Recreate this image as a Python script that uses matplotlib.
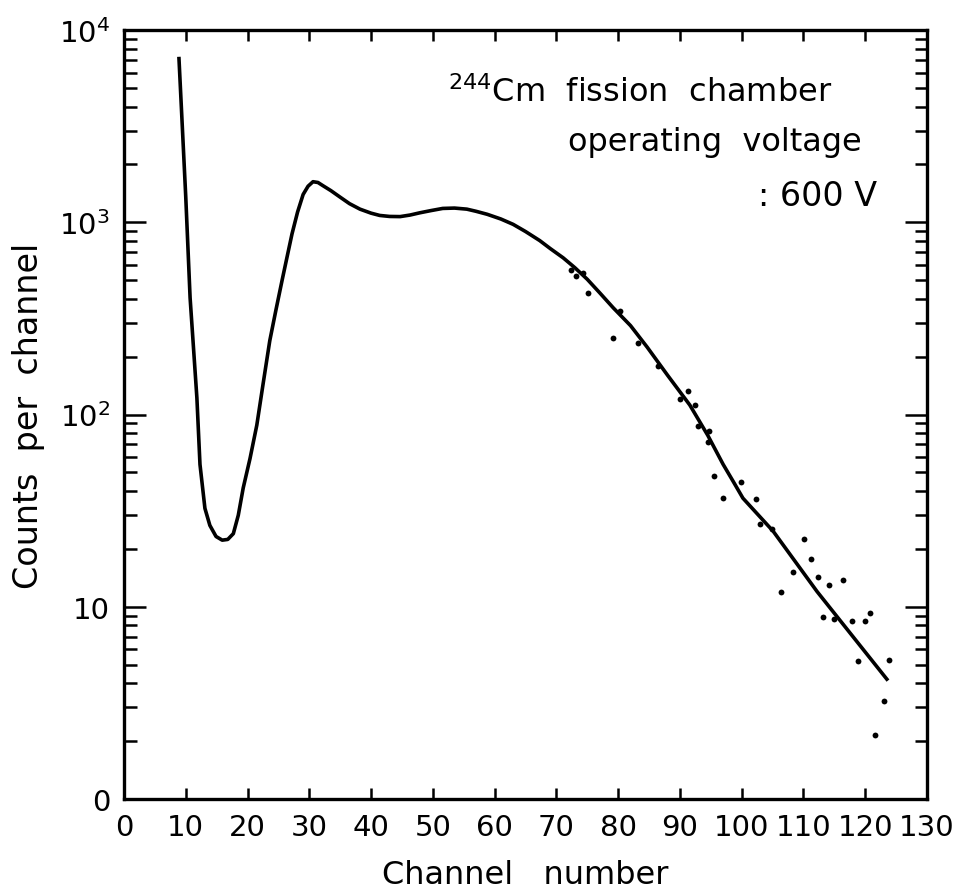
import numpy as np
import matplotlib
matplotlib.use("Agg")
import matplotlib.pyplot as plt
from matplotlib.ticker import LogLocator, NullFormatter, FixedLocator

plt.rcParams['font.family'] = ['DejaVu Sans']
plt.rcParams['mathtext.fontset'] = 'dejavusans'

# fitted curve
curve_x = [8.9, 10.0, 10.7, 11.8, 12.3, 13.1, 13.9, 14.9, 15.9, 16.8, 17.7, 18.5,
           19.3, 20.4, 21.5, 22.5, 23.6, 24.6, 25.6, 26.4, 27.2, 28.1, 29.0, 29.8,
           30.6, 31.4, 32.2, 33.5, 35.0, 36.5, 38.2, 40.0, 41.4, 43.0, 44.7, 46.3,
           47.9, 49.7, 51.6, 53.5, 55.5, 57.0, 58.8, 61.0, 63.0, 65.0, 67.3, 69.0,
           71.1, 73.0, 75.0, 77.0, 79.2, 82.0, 84.7, 88.0, 91.6, 94.5, 97.0, 98.6,
           100.2, 105.1, 112.2, 118.0, 123.5]
curve_y = [7100, 1350, 405, 122, 55, 32.5, 26.5, 23.2, 22.2, 22.4, 24, 29.9,
           41.5, 59, 88, 143, 242, 350, 500, 660, 870, 1130, 1395, 1540,
           1625, 1610, 1550, 1460, 1350, 1250, 1170, 1115, 1085, 1072, 1070, 1090,
           1120, 1150, 1180, 1185, 1170, 1140, 1100, 1040, 975, 895, 803, 730,
           653, 580, 505, 430, 359, 290, 224, 160, 112, 78, 55, 45,
           36.7, 24.7, 12, 7.0, 4.2]

# measured points
pts_x = [72.4, 73.2, 74.3, 75.1, 79.2, 80.3, 83.2, 86.5, 90.0, 91.3, 92.4, 92.9,
         94.7, 94.5, 95.5, 97.0, 99.9, 102.3, 103.0, 104.9, 106.4, 108.3, 110.1,
         111.2, 112.4, 113.2, 114.1, 114.9, 116.4, 117.9, 118.8, 120.0, 120.8,
         121.6, 123.0, 123.8]
pts_y = [565, 527, 547, 430, 251, 347, 236, 179, 120, 133, 112, 87,
         82, 72, 48, 36.7, 44.5, 36.3, 26.9, 25.3, 11.9, 15.1, 22.4,
         17.8, 14.2, 8.8, 12.9, 8.6, 13.7, 8.4, 5.2, 8.4, 9.3,
         2.16, 3.24, 5.3]

xticks = list(range(0, 131, 10))
yticks = [1, 10, 100, 1000, 10000]
ytick_labels = ['0', '10', r'$10^2$', r'$10^3$', r'$10^4$']

W, H = 963, 895
fig = plt.figure(figsize=(W / 100, H / 100), dpi=100)
ax = fig.add_axes([124 / W, 1 - 800 / H, (927 - 124) / W, (800 - 31) / H])

ax.plot(curve_x, curve_y, color='black', lw=2.6, solid_joinstyle='round')
ax.plot(pts_x, pts_y, 'o', color='black', ms=4.2, mew=0)

ax.set_yscale('log')
ax.set_xlim(0, 130)
ax.set_ylim(1, 1e4)

ax.xaxis.set_major_locator(FixedLocator(xticks))
ax.set_xticklabels([str(t) for t in xticks])
ax.set_yticks(yticks)
ax.set_yticklabels(ytick_labels)
ax.yaxis.set_minor_locator(LogLocator(base=10, subs=np.arange(2, 10)))
ax.yaxis.set_minor_formatter(NullFormatter())

for s in ax.spines.values():
    s.set_linewidth(2.4)

ax.tick_params(axis='both', which='both', direction='in', top=True, right=True,
               labelsize=21, width=1.8, pad=10)
ax.tick_params(axis='x', which='major', length=8)
ax.tick_params(axis='y', which='major', length=16)
ax.tick_params(axis='y', which='minor', length=9)

ax.set_xlabel('Channel   number', fontsize=23, labelpad=13)
ax.set_ylabel('Counts  per  channel', fontsize=24, labelpad=10)

fig.text(448 / W, 1 - 93 / H, r'$^{244}$Cm  fission  chamber', fontsize=23,
         ha='left', va='center')
fig.text(568 / W, 1 - 143 / H, 'operating  voltage', fontsize=23,
         ha='left', va='center')
fig.text(758 / W, 1 - 197 / H, ': 600 V', fontsize=24,
         ha='left', va='center')

fig.savefig('out.png', dpi=100)
